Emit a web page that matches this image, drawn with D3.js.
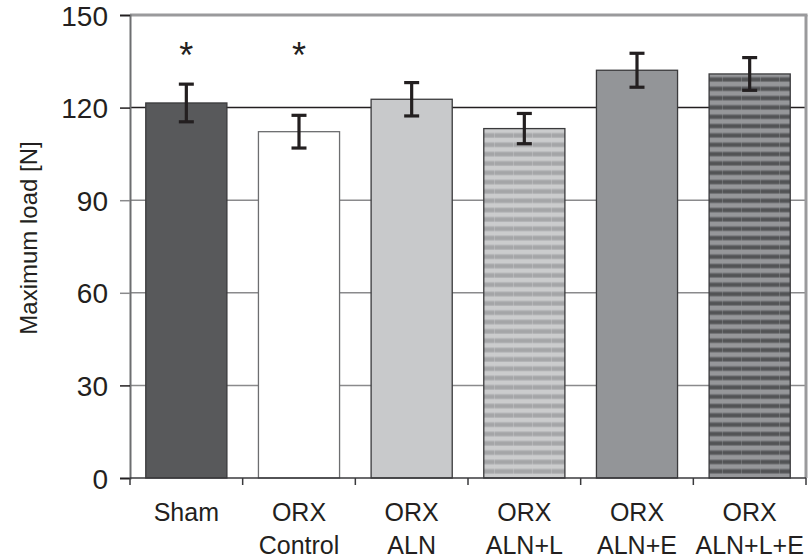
<!DOCTYPE html>
<html>
<head>
<meta charset="utf-8">
<script src="https://cdn.jsdelivr.net/npm/d3@7"></script>
<style>
  html, body { margin: 0; padding: 0; background: #fff; }
  svg { display: block; font-family: "Liberation Sans", Arial, sans-serif; }
</style>
</head>
<body>
<svg id="chart" width="808" height="559"></svg>
<script>
const categories = [["Sham"], ["ORX", "Control"], ["ORX", "ALN"], ["ORX", "ALN+L"], ["ORX", "ALN+E"], ["ORX", "ALN+L+E"]];
const means = [121.5, 112.2, 122.7, 113.2, 132.1, 130.9];
const errors = [6.1, 5.3, 5.4, 4.9, 5.5, 5.3];
const significant = [true, true, false, false, false, false];
const yTicks = [0, 30, 60, 90, 120, 150];
const fills = ["#58595b", "#ffffff", "#c8c9cb", "url(#stripeLight)", "#939598", "url(#stripeDark)"];

const svg = d3.select("#chart");
const pLeft = 130, pRight = 806, pTop = 15, pBottom = 478;

const x = d3.scaleBand().domain(d3.range(categories.length)).range([pLeft, pRight]).paddingInner(0.28).paddingOuter(0.14);
const y = d3.scaleLinear().domain([0, 150]).range([pBottom, pTop]);

// patterns
const defs = svg.append("defs");
function stripe(id, base, mid, dark) {
  const p = defs.append("pattern").attr("id", id).attr("patternUnits", "userSpaceOnUse")
    .attr("width", 19).attr("height", 9.33);
  p.append("rect").attr("width", 19).attr("height", 9.33).attr("fill", base);
  p.append("rect").attr("y", 2.2).attr("width", 19).attr("height", 5.2).attr("fill", mid);
  p.append("rect").attr("y", 3.2).attr("width", 19).attr("height", 3.2).attr("fill", dark);
  p.append("rect").attr("x", 0).attr("width", 0.8).attr("height", 9.33).attr("fill", base).attr("opacity", 0.5);
}
stripe("stripeLight", "#cbcccd", "#b3b4b6", "#a4a5a7");
stripe("stripeDark", "#96979a", "#737477", "#525355");

// gridlines
const gridColor = v => (v === 120 ? "#231f20" : "#8a8a8c");
svg.append("g").selectAll("line").data(yTicks.filter(v => v > 0 && v < 150)).join("line")
  .attr("x1", pLeft).attr("x2", pRight)
  .attr("y1", d => y(d)).attr("y2", d => y(d))
  .attr("stroke", d => gridColor(d)).attr("stroke-width", 1.5);

// frame top & right
svg.append("line").attr("x1", pLeft).attr("x2", pRight + 1.5).attr("y1", pTop).attr("y2", pTop)
  .attr("stroke", "#9a9a9c").attr("stroke-width", 3);
svg.append("line").attr("x1", pRight).attr("x2", pRight).attr("y1", pTop).attr("y2", pBottom)
  .attr("stroke", "#9a9a9c").attr("stroke-width", 3);

// bars
svg.append("g").selectAll("rect").data(means).join("rect")
  .attr("x", (d, i) => x(i))
  .attr("y", d => y(d))
  .attr("width", x.bandwidth())
  .attr("height", d => y(0) - y(d))
  .attr("fill", (d, i) => fills[i])
  .attr("stroke", (d, i) => (i === 1 ? "#6d6e70" : "#3a3a3c"))
  .attr("stroke-width", 1.3);

// y axis
const yAxis = d3.axisLeft(y).tickValues(yTicks).tickSize(10).tickPadding(12);
const gy = svg.append("g").attr("transform", `translate(${pLeft},0)`).call(yAxis);
gy.select(".domain").attr("stroke", "#6d6e70").attr("stroke-width", 2);
gy.selectAll(".tick line").attr("stroke", d => (d === 60 || d === 90 ? "#8a8a8c" : "#231f20")).attr("stroke-width", 1.5);
gy.selectAll(".tick text").attr("font-size", 28).attr("fill", "#231f20")
  .attr("font-family", "Liberation Sans, Arial, sans-serif").attr("dy", "0.36em");

// x axis
svg.append("line").attr("x1", pLeft).attr("x2", pRight).attr("y1", pBottom).attr("y2", pBottom)
  .attr("stroke", "#3a3a3c").attr("stroke-width", 1.5);
const boundaries = d3.range(categories.length + 1).map(i => pLeft + i * x.step());
svg.append("g").selectAll("line").data(boundaries).join("line")
  .attr("x1", d => d).attr("x2", d => d).attr("y1", pBottom).attr("y2", pBottom + 7)
  .attr("stroke", "#3a3a3c").attr("stroke-width", 1.5);

const labels = svg.append("g").selectAll("text").data(categories).join("text")
  .attr("x", (d, i) => x(i) + x.bandwidth() / 2)
  .attr("y", 521)
  .attr("text-anchor", "middle")
  .attr("font-size", 25)
  .attr("fill", "#231f20");
labels.selectAll("tspan").data(d => d).join("tspan")
  .attr("x", function () { return this.parentNode.getAttribute("x"); })
  .attr("dy", (d, j) => (j === 0 ? 0 : 32.6))
  .text(d => d);

// error bars
const eb = svg.append("g").attr("stroke", "#231f20").attr("stroke-width", 3.2);
means.forEach((m, i) => {
  const cx = x(i) + x.bandwidth() / 2;
  const hi = y(m + errors[i]), lo = y(m - errors[i]);
  eb.append("line").attr("x1", cx).attr("x2", cx).attr("y1", hi).attr("y2", lo);
  eb.append("line").attr("x1", cx - 7.5).attr("x2", cx + 7.5).attr("y1", hi).attr("y2", hi);
  eb.append("line").attr("x1", cx - 7.5).attr("x2", cx + 7.5).attr("y1", lo).attr("y2", lo);
});

// significance asterisks
svg.append("g").selectAll("text").data(significant.map((s, i) => ({ s, i })).filter(d => d.s)).join("text")
  .attr("x", d => x(d.i) + x.bandwidth() / 2)
  .attr("y", y(139.5) + 21)
  .attr("text-anchor", "middle")
  .attr("font-size", 36)
  .attr("fill", "#231f20")
  .text("*");

// y label
svg.append("text")
  .attr("transform", "translate(37,238) rotate(-90)")
  .attr("text-anchor", "middle")
  .attr("font-size", 24)
  .attr("fill", "#231f20")
  .text("Maximum load [N]");
</script>
</body>
</html>
